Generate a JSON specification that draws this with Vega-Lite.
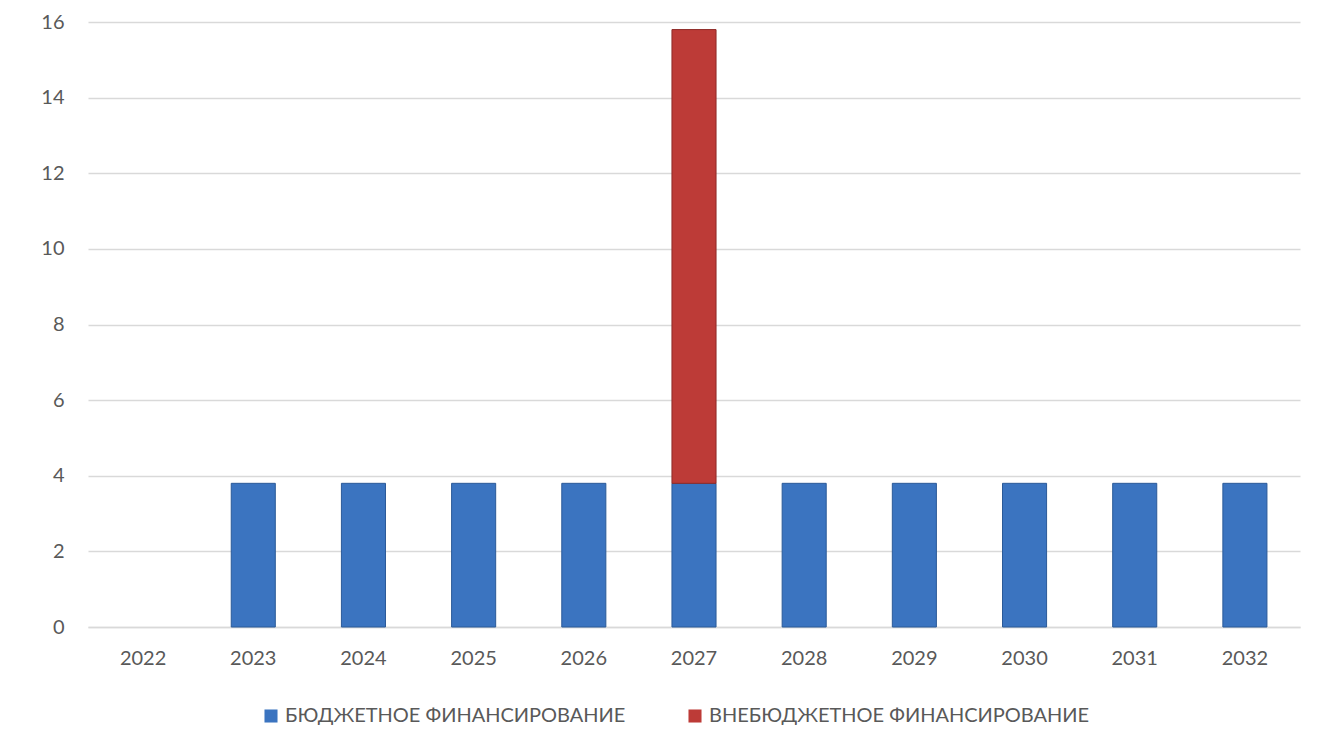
{
  "$schema": "https://vega.github.io/schema/vega-lite/v6.json",
  "width": 1212,
  "height": 605,
  "padding": {"left": 40, "top": 12, "right": 22, "bottom": 5},
  "autosize": {"type": "pad"},
  "background": "#ffffff",
  "data": {
    "values": [
      {"year": "2023", "series": "БЮДЖЕТНОЕ ФИНАНСИРОВАНИЕ", "value": 3.8},
      {"year": "2024", "series": "БЮДЖЕТНОЕ ФИНАНСИРОВАНИЕ", "value": 3.8},
      {"year": "2025", "series": "БЮДЖЕТНОЕ ФИНАНСИРОВАНИЕ", "value": 3.8},
      {"year": "2026", "series": "БЮДЖЕТНОЕ ФИНАНСИРОВАНИЕ", "value": 3.8},
      {"year": "2027", "series": "БЮДЖЕТНОЕ ФИНАНСИРОВАНИЕ", "value": 3.8},
      {"year": "2028", "series": "БЮДЖЕТНОЕ ФИНАНСИРОВАНИЕ", "value": 3.8},
      {"year": "2029", "series": "БЮДЖЕТНОЕ ФИНАНСИРОВАНИЕ", "value": 3.8},
      {"year": "2030", "series": "БЮДЖЕТНОЕ ФИНАНСИРОВАНИЕ", "value": 3.8},
      {"year": "2031", "series": "БЮДЖЕТНОЕ ФИНАНСИРОВАНИЕ", "value": 3.8},
      {"year": "2032", "series": "БЮДЖЕТНОЕ ФИНАНСИРОВАНИЕ", "value": 3.8},
      {"year": "2027", "series": "ВНЕБЮДЖЕТНОЕ ФИНАНСИРОВАНИЕ", "value": 12.0}
    ]
  },
  "mark": {"type": "bar", "strokeWidth": 1},
  "encoding": {
    "x": {
      "field": "year",
      "type": "nominal",
      "sort": null,
      "scale": {
        "domain": ["2022", "2023", "2024", "2025", "2026", "2027", "2028", "2029", "2030", "2031", "2032"],
        "paddingInner": 0.6,
        "paddingOuter": 0.3
      },
      "axis": {
        "title": null,
        "labelAngle": 0,
        "ticks": false,
        "domainColor": "#d9d9d9",
        "domainWidth": 1.5,
        "labelPadding": 21,
        "labelFontSize": 20,
        "labelColor": "#595959",
        "labelFont": "Lato"
      }
    },
    "y": {
      "field": "value",
      "type": "quantitative",
      "stack": "zero",
      "scale": {"domain": [0, 16], "nice": false},
      "axis": {
        "title": null,
        "values": [0, 2, 4, 6, 8, 10, 12, 14, 16],
        "ticks": false,
        "domain": false,
        "gridColor": "#d9d9d9",
        "gridWidth": 1.5,
        "labelPadding": 24,
        "labelFontSize": 20,
        "labelColor": "#595959",
        "labelFont": "Lato"
      }
    },
    "color": {
      "field": "series",
      "type": "nominal",
      "scale": {
        "domain": ["БЮДЖЕТНОЕ ФИНАНСИРОВАНИЕ", "ВНЕБЮДЖЕТНОЕ ФИНАНСИРОВАНИЕ"],
        "range": ["#3b74c0", "#bd3b37"]
      },
      "legend": {
        "title": null,
        "orient": "none",
        "legendX": 173,
        "legendY": 684,
        "direction": "horizontal",
        "symbolType": "square",
        "symbolSize": 170,
        "symbolStrokeWidth": 0,
        "labelFontSize": 20,
        "labelLimit": 600,
        "labelColor": "#595959",
        "labelFont": "Lato",
        "labelOffset": 4,
        "columnPadding": 59
      }
    },
    "stroke": {
      "field": "series",
      "type": "nominal",
      "scale": {
        "domain": ["БЮДЖЕТНОЕ ФИНАНСИРОВАНИЕ", "ВНЕБЮДЖЕТНОЕ ФИНАНСИРОВАНИЕ"],
        "range": ["#2b5a98", "#8e2a27"]
      },
      "legend": null
    },
    "order": {"field": "series", "sort": "ascending"}
  },
  "config": {
    "view": {"stroke": null}
  }
}
